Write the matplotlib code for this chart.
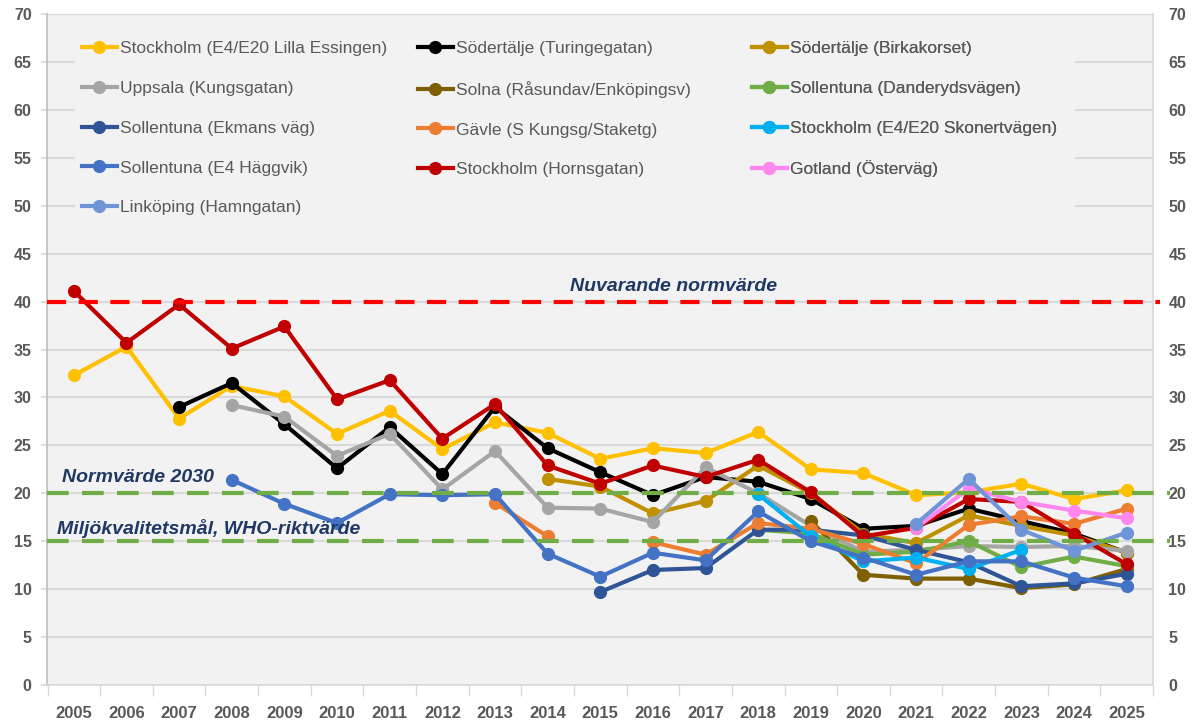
import numpy as np
import matplotlib
matplotlib.use("Agg")
import matplotlib.pyplot as plt
from matplotlib.patches import Rectangle


# =========================
# Data (NO2, årsmedelvärde)
# =========================

n = np.nan

YEARS = list(range(2005, 2026))
YEAR_LABELS = [str(y) for y in YEARS]
Y_TICKS = list(range(0, 75, 5))

essingen = [32.3, 35.3, 27.8, 31.2, 30.1, 26.2, 28.6, 24.6, 27.4, 26.3, 23.6,
            24.7, 24.2, 26.4, 22.5, 22.1, 19.8, 20.1, 21.0, 19.4, 20.3]
turingegatan = [n, n, 29.0, 31.5, 27.2, 22.6, 26.9, 22.0, 29.0, 24.7, 22.2,
                19.8, 21.7, 21.2, 19.4, 16.3, 16.6, 18.4, 17.1, 15.8, 13.8]
birkakorset = [n, n, n, n, n, n, n, n, n, 21.5, 20.7,
               17.9, 19.2, 22.9, 20.0, 15.8, 14.8, 17.7, 16.6, 15.6, 13.8]
uppsala = [n, n, n, 29.2, 28.0, 23.9, 26.2, 20.4, 24.4, 18.5, 18.4,
           17.0, 22.7, 20.0, 16.6, 13.9, 14.1, 14.5, 14.4, 14.5, 14.0]
solna = [n, n, n, n, n, n, n, n, n, n, n,
         n, n, n, 17.1, 11.5, 11.1, 11.1, 10.1, 10.5, 12.1]
danderyd = [n, n, n, n, n, n, n, n, n, n, n,
            n, n, 16.2, 15.8, 13.6, 13.9, 15.0, 12.3, 13.4, 12.4]
ekmans = [n, n, n, n, n, n, n, n, n, n, 9.7,
          12.0, 12.2, 16.2, 16.2, 15.6, 14.1, 12.8, 10.3, 10.6, 11.6]
gavle = [n, n, n, n, n, n, n, n, 19.0, 15.5, n,
         14.9, 13.6, 16.9, 16.3, 14.7, 12.7, 16.7, 17.6, 16.8, 18.4]
skonert = [n, n, n, n, n, n, n, n, n, n, n,
           n, n, 19.9, 15.5, 12.9, 13.3, 12.1, 14.1, n, n]
haggvik = [n, n, n, 21.4, 18.9, 16.9, 19.9, 19.8, 19.9, 13.7, 11.3,
           13.8, 13.0, 18.1, 15.0, 13.3, 11.5, 12.9, 12.9, 11.2, 10.3]
hornsgatan = [41.1, 35.7, 39.7, 35.1, 37.4, 29.8, 31.8, 25.7, 29.3, 22.9, 21.0,
              22.9, 21.7, 23.5, 20.1, 15.5, 16.4, 19.4, 19.1, 15.8, 12.6]
gotland = [n, n, n, n, n, n, n, n, n, n, n,
           n, n, n, n, n, 16.4, 20.5, 19.1, 18.2, 17.4]
linkoping = [n, n, n, n, n, n, n, n, n, n, n,
             n, n, n, n, n, 16.8, 21.5, 16.2, 14.0, 15.9]

NAMES = [
    "Stockholm (E4/E20 Lilla Essingen)",
    "Södertälje (Turingegatan)",
    "Södertälje (Birkakorset)",
    "Uppsala (Kungsgatan)",
    "Solna (Råsundav/Enköpingsv)",
    "Sollentuna (Danderydsvägen)",
    "Sollentuna (Ekmans väg)",
    "Gävle (S Kungsg/Staketg)",
    "Stockholm (E4/E20 Skonertvägen)",
    "Sollentuna (E4 Häggvik)",
    "Stockholm (Hornsgatan)",
    "Gotland (Österväg)",
    "Linköping (Hamngatan)",
]
VALUES = [essingen, turingegatan, birkakorset, uppsala, solna, danderyd, ekmans,
          gavle, skonert, haggvik, hornsgatan, gotland, linkoping]
COLORS = ["#FFC000", "#000000", "#BF9000", "#A5A5A5", "#7F6000", "#70AD47",
          "#2F5597", "#ED7D31", "#00B0F0", "#4472C4", "#C00000", "#FF88EE",
          "#6F94D8"]

NORM_NOW = 40
NORM_2030 = 20
WHO_LEVEL = 15

# =========================
# Figure
# =========================

FONT = ["Liberation Sans", "DejaVu Sans"]
LABEL_GRAY = "#595959"
TEXT_NAVY = "#1F3864"
GRID = "#D9D9D9"
BG = "#F2F2F2"

plt.rcParams["font.family"] = FONT

fig = plt.figure(figsize=(12.01, 7.24), dpi=100)
ax = fig.add_axes([47 / 1201, 1 - 685 / 724, 1106 / 1201, 671 / 724])
ax.set_facecolor(BG)

lines = []
for i, (name, vals, col) in enumerate(zip(NAMES, VALUES, COLORS)):
    line, = ax.plot(YEARS, vals, color=col, lw=3, marker="o", ms=8.5,
                    label=name, zorder=3 + i * 0.01)
    lines.append(line)

# limit lines
ax.axhline(NORM_NOW, xmin=0, xmax=1.006, color="#FF0000", lw=3,
           dashes=(4.6, 3.0), clip_on=False, zorder=5)
ax.axhline(NORM_2030, xmin=0, xmax=1.015, color="#70AD47", lw=3,
           dashes=(5.2, 3.2), clip_on=False, zorder=5)
ax.axhline(WHO_LEVEL, xmin=0, xmax=1.015, color="#70AD47", lw=3,
           dashes=(5.2, 3.2), clip_on=False, zorder=5)

ax.text(2014.42, 41.6, "Nuvarande normvärde", fontsize=14, fontweight="bold",
        fontstyle="italic", color=TEXT_NAVY, va="center", ha="left", zorder=6)
ax.text(2004.77, 21.6, "Normvärde 2030", fontsize=14, fontweight="bold",
        fontstyle="italic", color=TEXT_NAVY, va="center", ha="left", zorder=6)
ax.text(2004.68, 16.3, "Miljökvalitetsmål, WHO-riktvärde", fontsize=14,
        fontweight="bold", fontstyle="italic", color=TEXT_NAVY, va="center",
        ha="left", zorder=6)

# axes
ax.set_xlim(2004.49, 2025.49)
ax.set_ylim(0, 70)
ax.set_xticks(YEARS)
ax.set_xticklabels(YEAR_LABELS)
ax.set_xticks(np.arange(2004.5, 2026, 1), minor=True)
ax.set_yticks(Y_TICKS)
ax.tick_params(axis="x", which="major", length=0, pad=15, labelsize=12,
               labelcolor=LABEL_GRAY)
ax.tick_params(axis="x", which="minor", length=8, color=GRID, width=1)
ax.tick_params(axis="y", which="major", length=4, color=GRID, width=1.2,
               labelsize=11.5, labelcolor=LABEL_GRAY, pad=7,
               labelright=True, right=False)
for lab in ax.get_xticklabels() + ax.get_yticklabels():
    lab.set_fontweight("bold")
for t in ax.yaxis.get_major_ticks():
    t.label2.set_fontweight("bold")
    t.label2.set_color(LABEL_GRAY)
    t.label2.set_fontsize(11.5)

ax.grid(axis="y", color=GRID, lw=1.5)
ax.set_axisbelow(True)
ax.spines["top"].set_visible(False)
ax.spines["left"].set_color("#BFBFBF")
ax.spines["right"].set_color(GRID)
ax.spines["bottom"].set_color(GRID)
for s in ["left", "right", "bottom"]:
    ax.spines[s].set_linewidth(1.2)

# legend background hides the grid behind it
ax.add_patch(Rectangle(((75 - 47) / 1106, (685 - 232) / 671), 1000 / 1106, 202 / 671,
                       transform=ax.transAxes, facecolor=BG, edgecolor="none",
                       zorder=1))

# three legend columns with equal spacing, filled row by row
col_x = [(82 - 47) / 1106, (418 - 47) / 1106, (752 - 47) / 1106]
for c in range(3):
    handles = lines[c::3]
    leg = ax.legend(handles=handles, labels=[h.get_label() for h in handles],
                    loc="upper left", bbox_to_anchor=(col_x[c], (685 - 41) / 671),
                    frameon=False, fontsize=12.5, labelcolor=LABEL_GRAY,
                    handlelength=2.0, handletextpad=0.2, labelspacing=1.42,
                    borderpad=0, borderaxespad=0)
    leg.set_zorder(7)
    ax.add_artist(leg)

fig.savefig("out.png", dpi=100)
